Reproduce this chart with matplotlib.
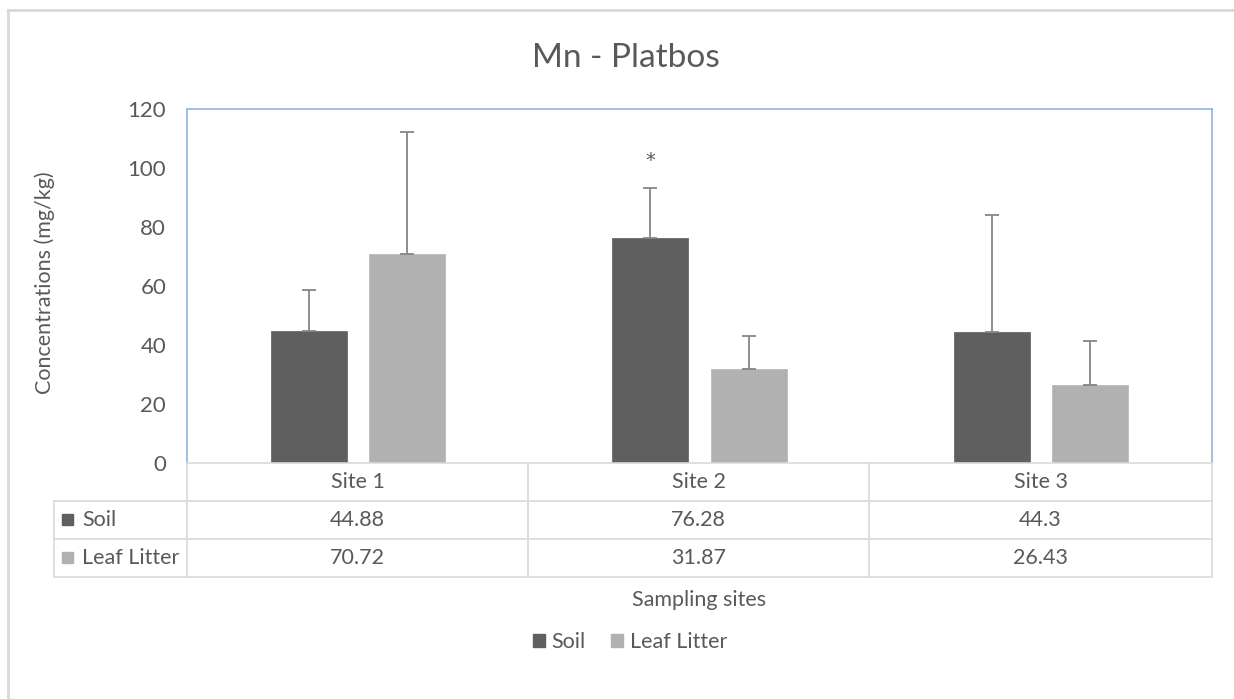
import matplotlib.pyplot as plt
import matplotlib.patches as patches
from matplotlib.lines import Line2D
import numpy as np

# Mean Mn concentrations (mg/kg) per sampling site
sites = ["Site 1", "Site 2", "Site 3"]
soil = [44.88, 76.28, 44.3]
leaf_litter = [70.72, 31.87, 26.43]
# Upper error bars (standard deviation)
soil_err = [13.7, 16.9, 39.6]
leaf_err = [41.5, 11.1, 14.9]
series_names = ["Soil", "Leaf Litter"]

W, H = 1234, 699
TXT = "#595959"
SOIL_C = "#5f5f5f"
LEAF_C = "#b1b1b1"
GRID_C = "#d9d9d9"
FS = 15.5

plt.rcParams['font.family'] = ['Lato', 'DejaVu Sans']


def px(x, y):
    # pixel position (from top-left) -> figure fraction
    return x / W, 1 - y / H


fig = plt.figure(figsize=(W / 100, H / 100), dpi=100)

# outer chart border
fig.add_artist(Line2D([8 / W, 1], [1 - 9.5 / H] * 2, color=GRID_C, lw=2))
fig.add_artist(Line2D([8 / W] * 2, [0, 1 - 9.5 / H], color=GRID_C, lw=2))

left, top, right, bottom = 187, 109, 1212, 463
ax = fig.add_axes([left / W, 1 - bottom / H, (right - left) / W, (bottom - top) / H])

x = np.arange(len(sites))
off, bw = 0.144, 0.223
ax.bar(x - off, soil, bw, color=SOIL_C, edgecolor="#6a6a6a", lw=0.6, zorder=2)
ax.bar(x + off, leaf_litter, bw, color=LEAF_C, edgecolor="#bababa", lw=0.6, zorder=2)
ax.errorbar(x - off, soil, yerr=[np.zeros(3), soil_err], fmt="none",
            ecolor="#858585", elinewidth=1.3, capsize=5, capthick=1.3, zorder=3)
ax.errorbar(x + off, leaf_litter, yerr=[np.zeros(3), leaf_err], fmt="none",
            ecolor="#858585", elinewidth=1.3, capsize=5, capthick=1.3, zorder=3)
# significance marker above Site 2 soil
ax.text(x[1] - off, soil[1] + soil_err[1] + 9.5, "*", ha="center", va="center",
        fontsize=14, color=TXT, family="DejaVu Sans")

ax.set_xlim(-0.5, 2.5)
ax.set_ylim(0, 120)
ax.set_yticks(range(0, 121, 20))
ax.tick_params(axis="y", length=0, labelsize=16, labelcolor=TXT, pad=15)
ax.set_xticks([])
for s in ["top", "left", "right"]:
    ax.spines[s].set_color("#8eb4e3")
    ax.spines[s].set_linewidth(1.2)
ax.spines["bottom"].set_color(GRID_C)
ax.spines["bottom"].set_linewidth(1.2)
fig.text(*px(45, 283), "Concentrations (mg/kg)", rotation=90, ha="center", va="center",
         fontsize=FS, color=TXT)

# data table under the axes
col_edges = [187, 528, 869, 1212]
row_edges = [463, 501, 539, 577]
lw = 1.2
for y in row_edges[1:]:
    fig.add_artist(Line2D([54 / W, 1212 / W], [1 - y / H] * 2, color=GRID_C, lw=lw))
for cx in col_edges:
    fig.add_artist(Line2D([cx / W] * 2, [1 - 463 / H, 1 - 577 / H], color=GRID_C, lw=lw))
fig.add_artist(Line2D([54 / W] * 2, [1 - 501 / H, 1 - 577 / H], color=GRID_C, lw=lw))

for i, name in enumerate(sites):
    cx = (col_edges[i] + col_edges[i + 1]) / 2
    fig.text(*px(cx, 482), name, ha="center", va="center", fontsize=FS, color=TXT)
    fig.text(*px(cx, 520), f"{soil[i]:g}", ha="center", va="center", fontsize=FS, color=TXT)
    fig.text(*px(cx, 558), f"{leaf_litter[i]:g}", ha="center", va="center", fontsize=FS, color=TXT)

for ry, name, c in [(520, series_names[0], SOIL_C), (558, series_names[1], LEAF_C)]:
    fig.add_artist(patches.Rectangle(px(62, ry + 5), 11 / W, 11 / H, color=c,
                                     transform=fig.transFigure))
    fig.text(*px(82, ry), name, ha="left", va="center", fontsize=FS, color=TXT)

fig.text(*px(699, 600), "Sampling sites", ha="center", va="center", fontsize=FS, color=TXT)
fig.text(*px(626, 58), "Mn - Platbos", ha="center", va="center", fontsize=24, color=TXT)

handles = [patches.Patch(color=SOIL_C, label=series_names[0]),
           patches.Patch(color=LEAF_C, label=series_names[1])]
fig.legend(handles=handles, loc="center", bbox_to_anchor=px(630, 642), ncol=2,
           frameon=False, fontsize=FS, labelcolor=TXT, handlelength=0.55,
           handleheight=0.55, handletextpad=0.3, columnspacing=1.2)

fig.savefig("out.png", dpi=100, facecolor="white")
